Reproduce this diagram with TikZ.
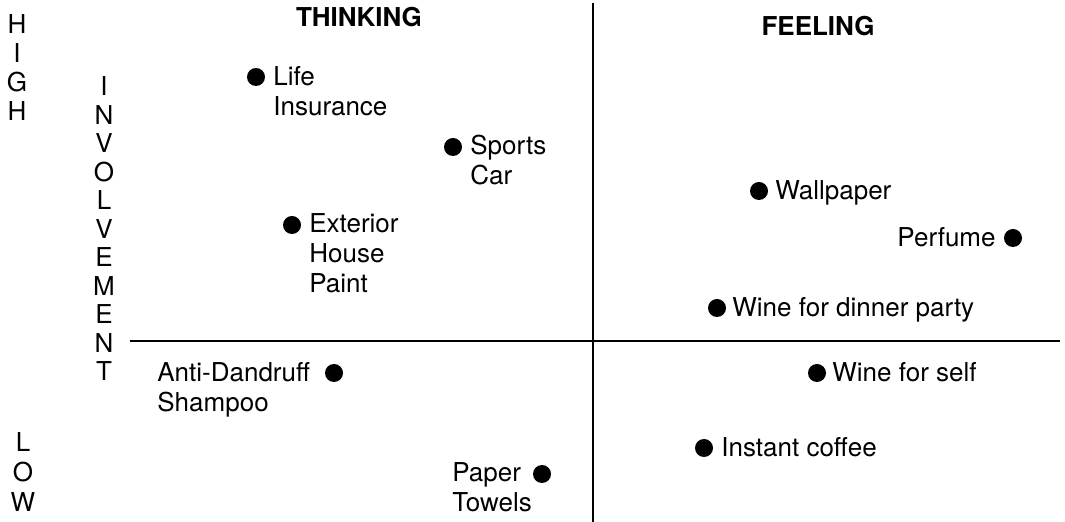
\documentclass[tikz,border=0pt]{standalone}
\usepackage{fontspec}
\setmainfont{TeX Gyre Heros}
\usepackage{tikz}
\usetikzlibrary{positioning}

\begin{document}
\begin{tikzpicture}[x=0.5pt,y=-0.5pt,
    dot/.style={circle,fill=black,inner sep=0pt,minimum size=9pt},
    lbl/.style={inner sep=0pt,align=left,font=\fontsize{13}{15}\selectfont},
    head/.style={inner sep=0pt,anchor=base,font=\fontsize{13}{15}\selectfont\bfseries},
    axis/.style={inner sep=0pt,anchor=base,align=center}]
            \useasboundingbox (0,0) rectangle (1065,522);

            % The two axes
            \coordinate (vtop) at (593,3);
            \coordinate (vbot) at (593,522);
            \coordinate (hleft) at (130,341);
            \coordinate (hright) at (1060,341);
            \draw[line width=1pt] (vtop) -- (vbot);
            \draw[line width=1pt] (hleft) -- (hright);

            % Headings and the involvement scale (base = last line)
            \node[head] (think) at (359,27) {THINKING};
            \node[head] (feel) at (818,36) {FEELING};
            \node[axis,font=\fontsize{13}{14.5}\selectfont] (high) at (17,121) {H\\I\\G\\H};
            \node[axis,font=\fontsize{13}{14.25}\selectfont] (inv) at (104,381) {I\\N\\V\\O\\L\\V\\E\\M\\E\\N\\T};
            \node[axis,font=\fontsize{13}{15}\selectfont] (low) at (23,512) {L\\O\\W};

            % Thinking quadrant, high
            \node[dot] (life) at (256,77) {};
            \node[lbl,anchor=base west] (lifet) at (273,116) {Life\\Insurance};
            \node[dot] (sports) at (453,147) {};
            \node[lbl,anchor=base west] (sportst) at (470,185) {Sports\\Car};
            \node[dot] (paint) at (292,225) {};
            \node[lbl,anchor=base west] (paintt) at (309,293) {Exterior\\House\\Paint};

            % Feeling quadrant, high
            \node[dot] (wall) at (759,191) {};
            \node[lbl,anchor=base west] (wallt) at (775,200) {Wallpaper};
            \node[dot] (perf) at (1013,238) {};
            \node[lbl,anchor=base east] (perft) at (996,247) {Perfume};
            \node[dot] (party) at (717,308) {};
            \node[lbl,anchor=base west] (partyt) at (732,317) {Wine for dinner party};

            % Thinking quadrant, low
            \node[dot] (shamp) at (334,373) {};
            \node[lbl,anchor=base west] (shampt) at (157,412) {Anti-Dandruff\\Shampoo};
            \node[dot] (towel) at (542,474) {};
            \node[lbl,anchor=base west] (towelt) at (452,512) {Paper\\Towels};

            % Feeling quadrant, low
            \node[dot] (self) at (817,373) {};
            \node[lbl,anchor=base west] (selft) at (832,382) {Wine for self};
            \node[dot] (coffee) at (704,448) {};
            \node[lbl,anchor=base west] (coffeet) at (721,457) {Instant coffee};
        \end{tikzpicture}
\end{document}
